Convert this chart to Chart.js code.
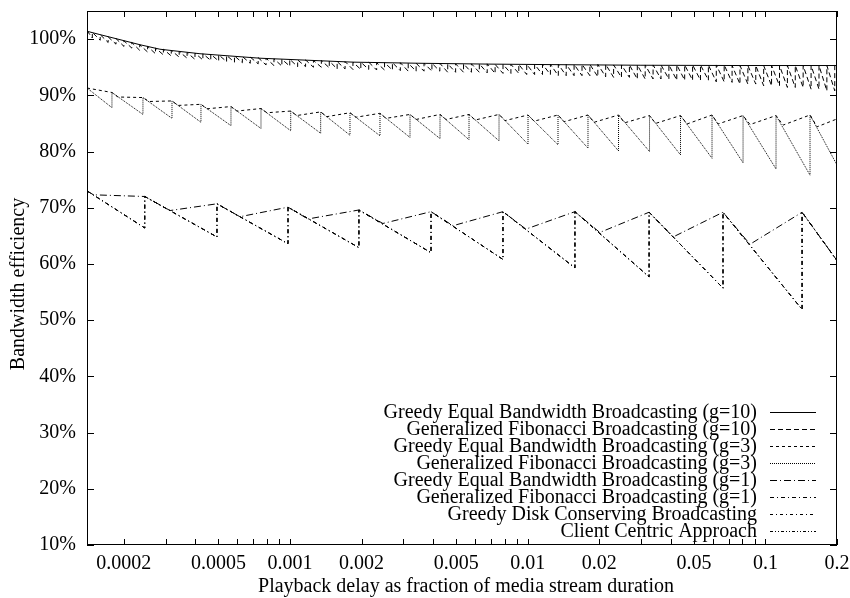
<!DOCTYPE html>
<html>
<head>
<meta charset="utf-8">
<script src="https://cdn.jsdelivr.net/npm/chart.js@4.4.0/dist/chart.umd.min.js"></script>
<style>
  html, body { margin: 0; padding: 0; background: #fff; }
</style>
</head>
<body>
<canvas id="chart" width="850" height="598"></canvas>
<script>
// ===== 軸 =====
const xTickValues = [
  0.0002, 0.0003, 0.0004, 0.0005, 0.0006, 0.0007, 0.0008, 0.0009,
  0.001, 0.002, 0.003, 0.004, 0.005, 0.006, 0.007, 0.008, 0.009,
  0.01, 0.02, 0.03, 0.04, 0.05, 0.06, 0.07, 0.08, 0.09,
  0.1, 0.2
];
const xTickLabels = ['0.0002', '0.0005', '0.001', '0.002', '0.005', '0.01', '0.02', '0.05', '0.1', '0.2'];
const yTickValues = [10, 20, 30, 40, 50, 60, 70, 80, 90, 100];
const xTitle = 'Playback delay as fraction of media stream duration';
const yTitle = 'Bandwidth efficiency';

const seriesNames = [
  'Greedy Equal Bandwidth Broadcasting (g=10)',
  'Generalized Fibonacci Broadcasting (g=10)',
  'Greedy Equal Bandwidth Broadcasting (g=3)',
  'Generalized Fibonacci Broadcasting (g=3)',
  'Greedy Equal Bandwidth Broadcasting (g=1)',
  'Generalized Fibonacci Broadcasting (g=1)',
  'Greedy Disk Conserving Broadcasting',
  'Client Centric Approach'
];

// ===== g=10 =====
const geq10X = [0.00014, 0.0001587, 0.0001927, 0.0002338, 0.0002838, 0.0004182, 0.0007476, 0.001102,
                0.001841, 0.003523, 0.006941, 0.01367, 0.02969, 0.0782, 0.2];
const geq10Y = [101.4, 100.8, 99.9, 99.0, 98.2, 97.4, 96.6, 96.3,
                95.9, 95.7, 95.55, 95.45, 95.35, 95.3, 95.3];

const gf10Start = [0.00014, 101.5];
const gf10End = [0.2, 95.0];
const gf10Drop = [
  0.0001474, 0.0001591, 0.0001718, 0.0001854, 0.0002002, 0.0002161, 0.0002333, 0.0002518, 0.0002718, 0.0002934,
  0.0003167, 0.0003419, 0.0003691, 0.0003984, 0.0004301, 0.0004643, 0.0005012, 0.0005411, 0.0005841, 0.0006305,
  0.0006806, 0.0007347, 0.0007931, 0.0008562, 0.0009243, 0.0009978, 0.001077, 0.001163, 0.001255, 0.001355,
  0.001463, 0.001579, 0.001705, 0.00184, 0.001986, 0.002144, 0.002315, 0.002499, 0.002697, 0.002912,
  0.003143, 0.003393, 0.003663, 0.003954, 0.004269, 0.004608, 0.004974, 0.00537, 0.005797, 0.006258,
  0.006755, 0.007292, 0.007872, 0.008498, 0.009174, 0.009903, 0.01069, 0.01154, 0.01246, 0.01345,
  0.01452, 0.01567, 0.01692, 0.01826, 0.01972, 0.02128, 0.02298, 0.0248, 0.02678, 0.02891,
  0.0312, 0.03368, 0.03636, 0.03925, 0.04237, 0.04574, 0.04938, 0.0533, 0.05754, 0.06212,
  0.06706, 0.07239, 0.07814, 0.08436, 0.09106, 0.0983, 0.1061, 0.1146, 0.1237, 0.1335,
  0.1441, 0.1556, 0.168, 0.1813, 0.1957
];
const gf10Top = [
  101.2, 100.8, 100.4, 100.1, 99.7, 99.4, 99.0, 98.7, 98.4, 98.2,
  98.0, 97.8, 97.6, 97.5, 97.4, 97.3, 97.2, 97.1, 97.0, 96.9,
  96.8, 96.7, 96.6, 96.5, 96.4, 96.4, 96.3, 96.3, 96.2, 96.2,
  96.1, 96.0, 96.0, 95.9, 95.9, 95.9, 95.8, 95.8, 95.8, 95.8,
  95.7, 95.7, 95.7, 95.7, 95.7, 95.6, 95.6, 95.6, 95.6, 95.6,
  95.6, 95.5, 95.5, 95.5, 95.5, 95.5, 95.5, 95.5, 95.5, 95.5,
  95.5, 95.5, 95.5, 95.5, 95.5, 95.5, 95.4, 95.4, 95.4, 95.4,
  95.4, 95.4, 95.4, 95.4, 95.4, 95.4, 95.4, 95.4, 95.4, 95.4,
  95.4, 95.3, 95.3, 95.3, 95.3, 95.3, 95.3, 95.3, 95.3, 95.3,
  95.3, 95.3, 95.3, 95.3, 95.3
];
const gf10Bottom = [
  100.2, 99.8, 99.4, 99.1, 98.7, 98.4, 98.0, 97.7, 97.4, 97.2,
  97.0, 96.8, 96.6, 96.4, 96.3, 96.2, 96.1, 96.0, 95.9, 95.8,
  95.7, 95.6, 95.4, 95.3, 95.2, 95.2, 95.1, 95.1, 95.0, 95.0,
  94.9, 94.7, 94.7, 94.6, 94.6, 94.6, 94.5, 94.5, 94.5, 94.4,
  94.3, 94.3, 94.3, 94.3, 94.3, 94.1, 94.1, 94.1, 94.1, 94.1,
  94.0, 93.9, 93.9, 93.9, 93.9, 93.7, 93.7, 93.7, 93.7, 93.5,
  93.5, 93.5, 93.5, 93.5, 93.3, 93.3, 93.2, 93.2, 93.2, 92.9,
  92.9, 92.9, 92.9, 92.9, 92.7, 92.7, 92.7, 92.7, 92.7, 92.4,
  92.4, 92.3, 92.0, 92.0, 92.0, 91.7, 91.7, 91.7, 91.4, 91.4,
  91.4, 91.1, 91.1, 90.8, 90.8
];

// ===== g=3 =====
const geq3X = [0.00014,
  0.0001783, 0.000189, 0.0002407, 0.000255, 0.0003189, 0.000338, 0.0004222, 0.000447,
  0.0005646, 0.000598, 0.0007551, 0.0008, 0.001007, 0.001067, 0.001346, 0.001427,
  0.001788, 0.001895, 0.002391, 0.002534, 0.003198, 0.003389, 0.004276, 0.004532,
  0.005664, 0.006003, 0.007574, 0.008027, 0.01003, 0.01063, 0.01341, 0.01421,
  0.01793, 0.01901, 0.0241, 0.02554, 0.03254, 0.03449, 0.04393, 0.0468,
  0.05961, 0.06318, 0.08051, 0.08612, 0.1108, 0.1186, 0.154, 0.1649, 0.2];
const geq3Y = [91.3,
  90.5, 89.7, 89.6, 88.9, 89.0, 88.2, 88.4, 87.6,
  88.0, 87.2, 87.65, 86.9, 87.2, 86.4, 87.05, 86.2,
  86.9, 86.1, 86.8, 85.9, 86.6, 85.7, 86.6, 85.7,
  86.6, 85.6, 86.6, 85.5, 86.5, 85.4, 86.5, 85.3,
  86.5, 85.2, 86.5, 85.1, 86.4, 85.0, 86.4, 84.9,
  86.5, 84.9, 86.4, 84.8, 86.4, 84.7, 86.5, 84.4, 85.8];

const gf3Start = [0.00014, 91.3];
const gf3End = [0.2, 77.6];
const gf3Drop = [0.0001783, 0.0002407, 0.0003189, 0.0004222, 0.0005646, 0.0007551, 0.001007, 0.001346,
                 0.001788, 0.002391, 0.003198, 0.004276, 0.005664, 0.007574, 0.01003, 0.01341,
                 0.01793, 0.0241, 0.03254, 0.04393, 0.05961, 0.08051, 0.1108, 0.154];
const gf3Bottom = [87.8, 86.6, 85.9, 85.2, 84.6, 84.1, 83.7, 83.25, 82.9, 82.8, 82.5, 82.3,
                   82.1, 81.9, 81.3, 81.2, 80.6, 80.1, 80.0, 79.4, 78.8, 78.0, 76.9, 75.8];
const gf3Top = [90.5, 89.6, 89.0, 88.4, 88.0, 87.65, 87.2, 87.05, 86.9, 86.8, 86.6, 86.6,
                86.6, 86.6, 86.5, 86.5, 86.5, 86.5, 86.4, 86.4, 86.5, 86.4, 86.4, 86.5];

// ===== g=1 =====
const geq1X = [0.00014, 0.000149, 0.000245, 0.000313, 0.000493, 0.000616, 0.000981, 0.00119,
               0.00195, 0.00246, 0.00392, 0.00485, 0.00787, 0.00983, 0.0158, 0.0201,
               0.0324, 0.0409, 0.0663, 0.0861, 0.1426, 0.2];
const geq1Y = [73.0, 72.3, 72.0, 69.5, 70.7, 68.4, 70.1, 68.0,
               69.6, 67.2, 69.3, 66.8, 69.3, 66.2, 69.3, 65.6,
               69.2, 64.8, 69.2, 63.5, 69.2, 60.6];

const gf1Start = [0.00014, 73.0];
const gf1End = [0.2, 60.6];
const gf1Drop = [0.000245, 0.000493, 0.000981, 0.00195, 0.00392, 0.00787, 0.0158, 0.0324, 0.0663, 0.1426];
const gf1Bottom = [66.4, 64.8, 63.6, 62.9, 62.0, 60.8, 59.3, 57.7, 55.7, 51.9];
const gf1Top = [72.0, 70.7, 70.1, 69.6, 69.3, 69.3, 69.3, 69.2, 69.2, 69.2];

// ===== 組點 =====
function pairs(xs, ys) {
  return xs.map((x, i) => ({ x: x, y: ys[i] }));
}
function sawtooth(start, drops, bottoms, tops, end) {
  const pts = [{ x: start[0], y: start[1] }];
  drops.forEach((x, i) => {
    pts.push({ x: x, y: bottoms[i] });
    pts.push({ x: x, y: tops[i] });
  });
  pts.push({ x: end[0], y: end[1] });
  return pts;
}

const gf1Points = sawtooth(gf1Start, gf1Drop, gf1Bottom, gf1Top, gf1End);
const seriesData = [
  pairs(geq10X, geq10Y),
  sawtooth(gf10Start, gf10Drop, gf10Bottom, gf10Top, gf10End),
  pairs(geq3X, geq3Y),
  sawtooth(gf3Start, gf3Drop, gf3Bottom, gf3Top, gf3End),
  pairs(geq1X, geq1Y),
  gf1Points,
  gf1Points,   // 與 g=1 重疊
  gf1Points
];
// 線型：圖上三條重疊線用同一虛線，圖例各自不同
const dashes = [[], [5, 3], [3, 3], [1, 1], [7, 3, 1, 3], [4, 3, 1, 3], [4, 3, 1, 3], [4, 3, 1, 3]];
const keyDashes = [[], [5, 3], [3, 3], [1, 1], [7, 3, 1, 3], [4, 3, 1, 3], [3, 3, 1, 3], [3, 2, 1, 2, 1, 2]];

const FONT = { family: '"Liberation Serif", "DejaVu Serif", serif', size: 20 };

// ===== 外框、內側刻度、軸標題、圖例 =====
const gnuFrame = {
  id: 'gnuFrame',
  afterDatasetsDraw(chart) {
    const { ctx, chartArea: a, scales } = chart;
    const xs = scales.x, ys = scales.y;
    ctx.save();
    ctx.strokeStyle = '#000';
    ctx.lineWidth = 1;
    ctx.setLineDash([]);
    ctx.beginPath();
    xTickValues.forEach(v => {
      const p = Math.round(xs.getPixelForValue(v)) + 0.5;
      ctx.moveTo(p, a.bottom); ctx.lineTo(p, a.bottom - 6);
      ctx.moveTo(p, a.top); ctx.lineTo(p, a.top + 6);
    });
    yTickValues.forEach(v => {
      const p = Math.round(ys.getPixelForValue(v)) + 0.5;
      ctx.moveTo(a.left, p); ctx.lineTo(a.left + 7, p);
      ctx.moveTo(a.right, p); ctx.lineTo(a.right - 7, p);
    });
    ctx.stroke();
    ctx.strokeRect(Math.round(a.left) + 0.5, Math.round(a.top) + 0.5,
                   Math.round(a.width) - 1, Math.round(a.height) - 1);

    ctx.font = FONT.size + 'px ' + FONT.family;
    ctx.fillStyle = '#000';

    // 軸標題
    ctx.textAlign = 'center';
    ctx.textBaseline = 'alphabetic';
    ctx.fillText(xTitle, (a.left + a.right) / 2 + 4, 592);
    ctx.save();
    ctx.translate(24, 284);
    ctx.rotate(-Math.PI / 2);
    ctx.fillText(yTitle, 0, 0);
    ctx.restore();

    // 圖例（gnuplot 式：文字靠右，線段在右）
    ctx.textAlign = 'right';
    ctx.textBaseline = 'middle';
    chart.data.datasets.forEach((ds, i) => {
      const yy = 412 + 17 * i;
      ctx.fillText(ds.label, 757, yy + 1);
      ctx.setLineDash(keyDashes[i]);
      ctx.beginPath();
      ctx.moveTo(770, yy + 0.5);
      ctx.lineTo(816, yy + 0.5);
      ctx.stroke();
    });
    ctx.restore();
  }
};

new Chart(document.getElementById('chart'), {
  type: 'line',
  data: {
    datasets: seriesData.map((d, i) => ({
      label: seriesNames[i],
      data: d,
      borderColor: '#000',
      borderWidth: 1,
      borderDash: dashes[i],
      pointRadius: 0,
      fill: false,
      tension: 0
    }))
  },
  options: {
    responsive: false,
    animation: false,
    layout: { padding: { top: 11, right: 13, bottom: 0, left: 0 } },
    plugins: { legend: { display: false }, tooltip: { enabled: false } },
    scales: {
      x: {
        type: 'logarithmic',
        min: 0.00014,
        max: 0.2,
        afterBuildTicks: s => { s.ticks = xTickValues.map(v => ({ value: v })); },
        afterFit: s => { s.height = 53; s.paddingLeft = 0; s.paddingRight = 0; },
        grid: { display: false },
        border: { display: false },
        ticks: {
          autoSkip: false, maxRotation: 0, padding: -1, color: '#000', font: FONT,
          callback: v => (xTickLabels.includes(String(v)) ? String(v) : '')
        }
      },
      y: {
        min: 10,
        max: 105,
        afterBuildTicks: s => { s.ticks = yTickValues.map(v => ({ value: v })); },
        afterFit: s => { s.width = 87; s.paddingTop = 0; s.paddingBottom = 0; },
        grid: { display: false },
        border: { display: false },
        ticks: { padding: 3, color: '#000', font: FONT, callback: v => v + '%' }
      }
    }
  },
  plugins: [gnuFrame]
});
</script>
</body>
</html>
